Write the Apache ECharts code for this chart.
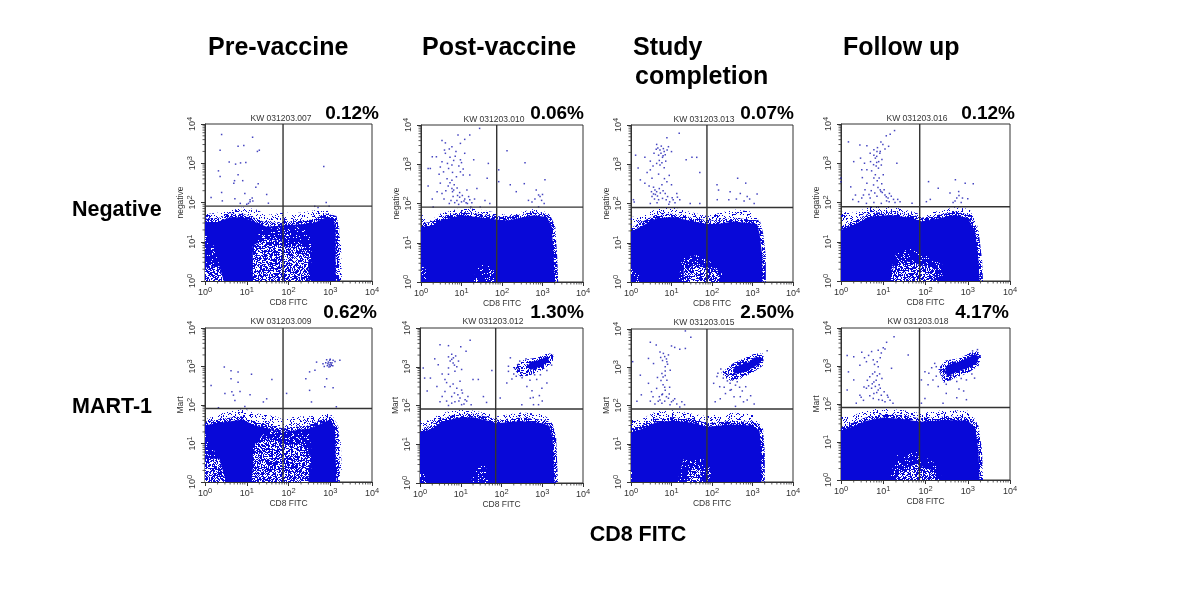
<!DOCTYPE html>
<html><head><meta charset="utf-8">
<script src="https://cdn.jsdelivr.net/npm/echarts@6/dist/echarts.min.js"></script>
<style>html,body{margin:0;background:#fff}#c{width:1200px;height:590px}</style></head>
<body><div id="c"></div>
<script>
// ---------- labels ----------
const columnTitles = ['Pre-vaccine','Post-vaccine','Study\n completion','Follow up'];
const rowTitles = ['Negative','MART-1'];
const xAxisName = 'CD8 FITC';
const yNames = ['negative','negative','negative','negative','Mart','Mart','Mart','Mart'];
const fileIds = ['KW 031203.007','KW 031203.010','KW 031203.013','KW 031203.016','KW 031203.009','KW 031203.012','KW 031203.015','KW 031203.018'];
const percents = ['0.12%','0.06%','0.07%','0.12%','0.62%','1.30%','2.50%','4.17%'];
const gateX = [74,74,75,73,74,72,75,72];
const gateY = [81,81,79,78,81,81,81,81];
const minorTickValues = [2,3,4,5,6,7,8,9,20,30,40,50,60,70,80,90,200,300,400,500,600,700,800,900,2000,3000,4000,5000,6000,7000,8000,9000];

// ---------- dense cloud outlines, read as [CD8, marker] ----------
const body1 = [[1,1],[1,32],[2,32],[4,42],[8,42],[14,34],[30,24],[74,26],[200,28],[400,30],[800,42],[1200,38],[1350,22],[1350,1]];
const body2 = [[1,1],[1,25],[2,28],[3,37],[10,50],[24,45],[74,39],[133,37],[600,50],[1300,45],[1700,25],[1900,4],[2000,1]];
const body3 = [[1,1],[1,19],[2,28],[4.3,42],[11,45],[35,35],[75,30],[130,30],[350,35],[1300,30],[1500,17],[1750,4.5],[1750,1]];
const body4 = [[1,1],[1,20],[2,27],[5,44],[15,48],[50,40],[74,33],[130,36],[500,48],[1000,40],[1500,18],[1800,3.4],[1900,1]];
const body5 = [[1,1],[1,30],[3,36],[8,42],[15,30],[50,22],[74,20],[150,22],[300,24],[500,30],[1000,42],[1300,25],[1400,1]];
const body6 = [[1,1],[1,20],[2,25],[3,35],[8,48],[20,50],[50,40],[74,35],[300,40],[1000,35],[1500,30],[1800,15],[2000,1]];
const body7 = [[1,1],[1,20],[2,25],[4,36],[10,40],[30,36],[75,28],[300,32],[1000,30],[1500,22],[1650,6],[1650,1]];
const body8 = [[1,1],[1,20],[2,26],[4,36],[10,44],[30,40],[72,34],[300,38],[1000,36],[1500,24],[1800,6],[1900,1]];

const fringe1 = [[1,1],[1,50],[3,58],[8,75],[16,68],[30,48],[74,55],[200,55],[500,65],[1000,60],[1500,35],[1800,12],[1900,1]];
const fringe2 = [[1,1],[1,60],[1.4,32],[3,55],[10,78],[24,72],[74,58],[133,50],[600,72],[1300,60],[1800,32],[2000,4],[2100,1]];
const fringe3 = [[1,1],[1,45],[2,48],[4.3,75],[11,78],[35,58],[75,48],[350,70],[1000,62],[1400,38],[1800,18],[2100,5],[1900,1]];
const fringe4 = [[1,1],[1,58],[2,55],[5,78],[15,80],[50,58],[74,50],[130,55],[500,76],[1100,68],[1700,25],[2000,5],[2100,1]];
const fringe5 = [[1,1],[1,42],[3,65],[8,78],[15,62],[50,50],[74,42],[150,50],[500,52],[1000,62],[1400,35],[1800,10],[1900,1]];
const fringe6 = [[1,1],[1,40],[2,42],[3,62],[8,78],[20,74],[50,60],[74,52],[300,66],[1000,60],[1700,40],[2000,15],[2100,1]];
const fringe7 = [[1,1],[1,42],[2,46],[4,70],[10,76],[30,62],[75,52],[300,66],[1000,58],[1600,32],[1950,8],[1800,1]];
const fringe8 = [[1,1],[1,45],[2,50],[4,70],[10,76],[30,68],[72,58],[300,70],[1000,66],[1600,36],[2100,8],[1950,1]];

// ---------- lighter pockets inside the clouds ----------
const holesHeavy = [
  [[[14,1],[14,8],[30,12],[70,10],[90,7],[180,9],[300,5],[300,1]],[[1,1],[1,2.2],[2.2,2.4],[2.8,1]]],
  [],
  [[[20,1],[20,2],[45,3],[70,2.4],[140,2],[140,1]]],
  [[[15,1],[18,2.4],[40,3.2],[70,2.6],[180,2],[150,1]]],
  [[[13,1],[16,10],[40,14],[80,9],[200,10],[330,5],[300,1]],[[1,1],[1,4],[2.2,4],[3.2,1]]],
  [],
  [[[24,1],[26,2],[50,2.4],[55,1]]],
  [[[20,1],[24,1.8],[60,2.6],[170,1.7],[170,1]]]
];
const holesLight = [
  [[[12,1],[20,20],[74,24],[300,24],[360,8],[340,1]],[[1,2],[1,20],[1.5,10],[2.4,2]]],
  [[[20,1],[24,3],[60,2.4],[70,1]],[[1,1],[1,2.6],[1.3,2.2],[1.4,1]]],
  [[[15,1],[18,4],[50,5],[100,3],[180,1.6],[160,1]],[[1,1],[1,2.2],[1.6,1.6],[1.6,1]]],
  [[[13,1],[20,5],[50,7],[120,4],[280,2.4],[240,1]]],
  [[[14,8],[30,22],[120,20],[320,20],[360,5],[340,1],[14,1]],[[1,4],[1,18],[1.5,10],[2.2,2]]],
  [[[18,1],[22,3],[40,3],[50,1]],[[1,1],[1,2],[1.4,2],[1.4,1]]],
  [[[14,1],[20,4],[60,4],[100,2],[90,1]],[[1,1],[1,2],[1.2,1.6],[1.2,1]]],
  [[[14,1],[20,4.4],[60,5.5],[150,3],[240,1.5],[220,1]]]
];

// ---------- antigen-positive clusters ----------
const clusterSolid = [
  [],[],[],[],[],
  [[420,1000],[520,1350],[900,1500],[1250,1850],[1480,1650],[1300,1250],[850,1000],[520,820]],
  [[330,900],[480,1150],[800,1350],[1100,1800],[1650,1850],[1550,1300],[1000,950],[550,720],[350,680]],
  [[290,880],[380,1120],[620,1280],[1000,1650],[1500,2050],[1850,1750],[1650,1180],[1000,880],[520,680],[320,520]]
];
const clusterHalo = [
  [],[],[],[],[],
  [[190,950],[350,1500],[800,1750],[1400,2250],[1900,2050],[1800,1300],[1050,850],[500,600],[290,560]],
  [[170,720],[340,1300],[650,1750],[1150,2300],[1900,2300],[1800,1100],[1000,720],[500,500],[260,440]],
  [[200,850],[300,1400],[650,1600],[1100,2200],[1700,2500],[2100,1800],[1800,1000],[1000,650],[500,480],[270,360]]
];

// ---------- individually readable events, [CD8, marker] ----------
const dots1 = [[2.5,5400],[2.3,2150],[6.2,2700],[8.5,2850],[13.8,4600],[18,2000],[20,2150],[3.8,1080],[5.4,950],[7.1,1020],[9.5,1040],[2.1,640],[2.3,460],[6.2,510],[5.1,360],[8,360],[4.9,310],[18.8,300],[16.5,245],[700,830],[2.5,180],[1.4,135],[2.6,110],[5.2,125],[9,170],[12,105],[13.5,130],[11,95],[30,160],[33,96],[425,80],[510,75],[800,100],[940,80],[7,95],[10,90],[12,118],[14,110]];
const dots2 = [[8.2,5600],[16,5600],[12,4300],[28,8200],[3.3,4000],[4,3500],[5.8,2800],[9.4,3400],[7.3,2100],[2.4,1550],[1.9,1550],[4,1900],[20,1300],[46,1050],[133,2200],[370,1100],[1.5,780],[1.7,780],[3.3,1150],[5.8,950],[9.4,1300],[9.4,640],[11,530],[16,530],[3.6,640],[4.4,430],[5.8,390],[3,330],[1.5,280],[5.8,240],[6.4,220],[3.3,180],[2.5,200],[1.9,130],[13.6,220],[24,240],[43,440],[83,720],[83,360],[160,300],[225,200],[355,320],[700,220],[1150,400],[800,165],[870,150],[450,120],[550,110],[7.7,120],[12,130],[14,100],[38,120],[50,100],[5,100],[2,82],[17,82],[29,82],[800,82],[8,160],[10,110],[16,125],[6,200],[4.5,1050],[7,1600],[11,760],[3,850],[2.8,560],[4.7,280],[9,145],[13,105],[650,130],[950,120],[1000,170],[1100,100],[5.2,340],[6.6,300],[7.8,250],[4.1,210],[9,190],[10.5,160],[6.2,150],[3.7,130],[5.5,120],[6.8,105],[8.5,95],[11.5,115],[15,150],[18,105],[21,130],[7.5,480],[6,620],[4.8,780],[8.6,900],[10,1100],[6.4,1250],[5.2,1500],[3.8,2300],[5,2450],[12,1900]];
const dots3 = [[7.7,4700],[15.5,6200],[4.3,3200],[6.3,2500],[8.4,2800],[5.2,2300],[6.6,2100],[4.8,1700],[10,2100],[1.3,1700],[2.2,1500],[23,1300],[32,1500],[42,1500],[4.3,1050],[5.2,950],[6.6,820],[50,620],[430,440],[680,330],[133,300],[1.5,800],[1.7,400],[2.2,330],[3.3,440],[3,720],[3.9,220],[4.3,200],[3.3,150],[5.8,300],[7.7,360],[10,300],[13.5,180],[7,180],[4.8,125],[11,125],[3,100],[16,125],[145,220],[280,200],[500,180],[740,150],[260,125],[1300,175],[1100,100],[135,125],[50,100],[29,100],[1.15,125],[3.6,260],[4,170],[5,240],[6,135],[4.4,105],[8,150],[9,110],[5.6,2900],[4.6,2600],[6,1500],[7.2,1200],[3.5,900],[1.2,110],[3.2,200],[3.6,175],[4.5,155],[3.8,130],[5.3,185],[6.2,210],[7.4,125],[8.6,95],[10.4,140],[12.2,105],[14,145],[5.5,1900],[6.2,1650],[5,1250],[5.8,1100],[7,1750],[7.8,2300],[4.2,2400],[3.7,1900],[3,1200],[2.5,620],[2.8,280],[6.7,430],[8.8,520],[4.8,560],[400,130],[620,115],[850,130]];
const dots4 = [[18.5,6800],[11.8,5000],[14.6,5500],[8.8,3500],[1.5,3500],[4.1,2800],[13.4,2700],[2.8,2900],[7.1,2000],[8.5,2000],[4.9,1800],[6.5,1350],[9.3,1250],[2.9,1350],[2,1100],[21,1000],[5.9,920],[7.7,750],[4.1,680],[3.1,680],[6.5,510],[10,510],[1.7,250],[4.1,310],[5.9,280],[1,420],[1,340],[8.5,210],[11,155],[3.4,155],[3.1,130],[4.9,130],[7.1,145],[13,130],[17.5,120],[1.9,120],[2.2,155],[25,105],[48,95],[118,340],[200,230],[510,380],[870,310],[1350,300],[380,175],[610,190],[550,130],[105,105],[130,120],[6,1600],[7,1050],[5.3,640],[8,420],[9.5,180],[12,110],[14,170],[6,100],[4,95],[9,95],[2.6,105],[500,110],[700,100],[450,100],[7.5,240],[8.8,190],[10.5,210],[11.8,140],[6.3,175],[5.2,200],[4.6,160],[3.7,210],[13.8,105],[15.5,145],[19,100],[22,120],[7,1500],[7.8,1100],[6.8,850],[8.3,1800],[7.3,2500],[6,2200],[9.8,3000],[11,2300],[9,900],[6,420],[7.2,360],[9.2,300],[3.2,430],[5,1100],[3.6,1000],[620,150],[750,130],[1000,125]];
const dots5 = [[2.9,970],[4.2,770],[6.2,720],[4.2,480],[6.2,390],[13,630],[40,460],[1.4,320],[3,200],[4.4,220],[6.9,225],[4.8,180],[12,185],[9,92],[10,80],[30,145],[25,120],[90,200],[5.2,130],[2.1,85],[470,1300],[670,1180],[820,1500],[970,1450],[880,1180],[1060,1070],[930,970],[1170,1450],[1700,1450],[430,800],[320,725],[260,480],[320,240],[355,120],[740,300],[1170,280],[820,480],[1400,90],[900,1300],[1000,1250],[1050,1150],[950,1100],[1100,1250],[850,1050],[1000,1000],[1150,1050],[780,1250],[1300,1350],[1000,1550],[720,1000]];
const dots6 = [[17,4800],[3.1,3700],[5,3500],[10,3300],[6.6,1700],[2.3,1600],[5.5,1400],[8.8,1400],[13.5,2500],[1.2,930],[2.8,1130],[5,930],[7.2,770],[58,800],[10.5,850],[1.8,510],[1.3,510],[4.1,470],[9.6,420],[20,470],[27,470],[2.6,310],[5.5,310],[10.5,250],[6,170],[4.1,230],[1.5,235],[12.8,140],[15,170],[9.6,155],[7.2,125],[3.1,125],[43,120],[36,170],[93,155],[148,1030],[148,760],[165,1700],[230,570],[135,380],[420,310],[980,280],[730,470],[1300,380],[510,155],[610,105],[810,105],[315,105],[6,2100],[7,1100],[3.5,650],[12,110],[14,130],[5,100],[250,850],[300,700],[420,600],[650,620],[900,620],[1300,800],[1700,1100],[1700,2000],[280,1400],[400,1600],[180,480],[560,240],[1000,130],[5,1800],[6,1550],[7.5,1900],[6.5,1250],[8,1000],[5,640],[4.5,390],[6.5,360],[8,280],[7,210],[8.5,190],[11,210],[9,130],[6,115],[10.5,105],[4.5,130],[3.5,170],[18,105],[200,650],[210,900],[260,1150],[320,520],[500,450],[600,160],[850,180]];
const dots7 = [[22,8900],[30,6100],[3,4500],[4.2,3800],[10,3600],[12,3300],[16,2950],[22,3100],[1.1,1400],[6.3,2300],[8.4,2100],[5.2,2500],[2.7,1700],[3.6,1250],[7.7,1400],[7,1030],[9.3,840],[5.8,690],[7.7,460],[1.7,620],[2.7,380],[4.3,280],[5.8,190],[7,250],[8.4,155],[10,125],[1.8,190],[1.4,130],[3.9,110],[5.2,140],[13.5,110],[16,92],[133,570],[110,380],[155,310],[215,205],[280,380],[500,170],[740,140],[380,95],[350,170],[160,150],[680,310],[380,340],[280,250],[120,125],[6,200],[5,170],[6.8,130],[7,610],[5.4,1800],[8,1200],[4.5,540],[9,300],[6.2,350],[140,700],[190,520],[240,440],[320,460],[420,420],[1800,1500],[2300,2700],[600,125],[1100,110],[3,130],[12,150],[6.8,1900],[7.5,1650],[6,1500],[7,800],[6.2,560],[5.5,450],[6.8,300],[7.5,170],[5.8,115],[4.7,130],[3.5,170],[3.2,230],[8.8,200],[11,135],[9.2,105],[18,125],[21,105],[165,900],[210,700],[250,620],[300,260],[200,300],[480,300],[560,240],[900,180]];
const dots8 = [[18,5900],[12,4200],[10,3000],[7.6,2600],[3.1,2300],[5.3,2400],[1.4,1900],[2,1750],[5.8,1450],[4,1300],[2.8,1050],[1.5,700],[7.6,950],[15.7,870],[39,1950],[6.3,700],[4.8,520],[9.3,470],[2,430],[1.4,235],[4,260],[5.3,260],[7.6,235],[2.8,170],[5.8,140],[11,115],[3.4,125],[2.3,105],[17,105],[97,710],[80,430],[115,320],[150,430],[200,290],[260,570],[380,430],[550,390],[930,430],[310,190],[550,145],[930,130],[260,105],[97,140],[80,105],[180,960],[165,1170],[8,320],[6,380],[3.5,280],[9,170],[7,200],[3,150],[13,150],[220,700],[310,330],[700,470],[1250,620],[1450,480],[120,640],[140,900],[1700,2700],[1300,2500],[4.5,300],[5.5,340],[6.8,420],[7.2,550],[8.2,620],[5.6,620],[4.2,420],[6.5,290],[8.5,260],[10.5,210],[12.5,170],[6,190],[4.8,165],[7.8,130],[9.5,125],[14.5,125],[6.2,1100],[7.2,1300],[8.5,1650],[9,2200],[11,2800],[4.5,1900],[3.6,1650],[230,820],[290,720],[420,560],[620,250],[800,220],[180,540]];

const bodies = [body1,body2,body3,body4,body5,body6,body7,body8];
const fringes = [fringe1,fringe2,fringe3,fringe4,fringe5,fringe6,fringe7,fringe8];
const dots = [dots1,dots2,dots3,dots4,dots5,dots6,dots7,dots8];

// ---------- layout (style, not data) ----------
const grids = [
  [205,124,167,157],[421,125,162,157],[631,125,162,157],[841,124,169,157],
  [205,328,167,154],[420,328,163,155],[631,329,162,153],[841,328,169,152]
];
const pctPos = [[379,114],[584,114],[794,114],[1015,114],[377,313],[584,313],[794,313],[1009,313]];
const idPos = [[281,119],[494,120],[704,120],[917,119],[281,322],[493,322],[704,323],[918,322]];
const BLUE = '#0808d8';

// speckle texture for the polygons' fill only (no chart value depends on it)
const textureA = '72930581647391058264730196285147360928514730296158403';
const textureB = '18462739501827643950172846395028174659302817465';
function tile(level,color){
  const c=document.createElement('canvas');
  c.width=127;c.height=127;const g=c.getContext('2d');g.fillStyle=color;
  for(let y=0;y<127;y++)for(let x=0;x<127;x++){
    const v=(+textureA[(x*x+y*3+x*y)%53]+ +textureB[(y*y*5+x*7)%47])%10;
    if(v<level)g.fillRect(x,y,1,1);
  }
  return {image:c,repeat:'repeat'};
}
const fillFringe=tile(2,BLUE),edgeSoft=tile(6,BLUE),fillHalo=tile(5,BLUE),holeHeavy=tile(4,'#ffffff'),holeLight=tile(1,'#ffffff');

function polygon(pts,fill,i,stroke,lw){
  const style={fill};
  if(stroke){style.stroke=stroke;style.lineWidth=lw;}
  return {type:'custom',coordinateSystem:'cartesian2d',xAxisIndex:i,yAxisIndex:i,silent:true,animation:false,
    clip:true,data:pts,encode:{x:0,y:1},
    renderItem:(p,api)=>p.dataIndex===0?{type:'polygon',shape:{points:pts.map(d=>api.coord(d))},style}:null};
}
function minorTicks(i,isX){
  const data=minorTickValues.map(v=>isX?[v,1]:[1,v]);
  return {type:'custom',coordinateSystem:'cartesian2d',xAxisIndex:i,yAxisIndex:i,silent:true,animation:false,clip:false,
    data,encode:{x:0,y:1},
    renderItem:(p,api)=>{const a=api.coord([api.value(0),api.value(1)]);
      const b=isX?[a[0],a[1]+2.5]:[a[0]-2.5,a[1]];
      return {type:'line',shape:{x1:a[0],y1:a[1],x2:b[0],y2:b[1]},style:{stroke:'#333',lineWidth:0.8}};}};
}
const powLabel=v=>'{b|10}{s|'+Math.round(Math.log10(v))+'}';
const rich={b:{fontSize:9,color:'#333',fontFamily:'Liberation Sans'},s:{fontSize:7.5,color:'#333',fontFamily:'Liberation Sans',padding:[0,0,6,0]}};
const series=[],xAxis=[],yAxis=[],grid=[],graphic=[];
grids.forEach((g,i)=>{
  grid.push({left:g[0],top:g[1],width:g[2],height:g[3],show:true,borderColor:'#333',borderWidth:1,backgroundColor:'#fff'});
  const ax={type:'log',logBase:10,min:1,max:10000,gridIndex:i,splitLine:{show:false},minorSplitLine:{show:false},
    axisLine:{show:true,onZero:false,lineStyle:{color:'#333',width:1}},
    axisTick:{show:true,length:4,inside:false,lineStyle:{color:'#333'}},
    minorTick:{show:false}};
  xAxis.push({...ax,name:xAxisName,nameLocation:'middle',nameGap:15,nameTextStyle:{fontSize:8.5,color:'#333',fontFamily:'Liberation Sans'},
    axisLabel:{formatter:powLabel,rich,margin:5,showMinLabel:true,showMaxLabel:true,hideOverlap:false}});
  yAxis.push({...ax,name:yNames[i],nameLocation:'middle',nameRotate:90,nameGap:16,nameTextStyle:{fontSize:8.5,color:'#333',fontFamily:'Liberation Sans'},
    axisLabel:{formatter:powLabel,rich,rotate:90,margin:5,showMinLabel:true,showMaxLabel:true,hideOverlap:false}});
  series.push(polygon(fringes[i],fillFringe,i));
  series.push(polygon(bodies[i],BLUE,i,edgeSoft,7));
  holesLight[i].forEach(h=>series.push(polygon(h,holeLight,i)));
  holesHeavy[i].forEach(h=>series.push(polygon(h,holeHeavy,i)));
  if(clusterHalo[i].length){series.push(polygon(clusterHalo[i],fillHalo,i));series.push(polygon(clusterSolid[i],BLUE,i,edgeSoft,3));}
  series.push({type:'scatter',xAxisIndex:i,yAxisIndex:i,data:dots[i],symbol:'rect',symbolSize:1.5,silent:true,animation:false,itemStyle:{color:'#1515b0'}});
  series.push(minorTicks(i,true));
  series.push(minorTicks(i,false));
  [[[gateX[i],1],[gateX[i],10000]],[[1,gateY[i]],[10000,gateY[i]]]].forEach(l=>
    series.push({type:'line',xAxisIndex:i,yAxisIndex:i,data:l,symbol:'none',silent:true,animation:false,lineStyle:{color:'#333',width:1.4},z:5}));
  graphic.push({type:'text',x:pctPos[i][0],y:pctPos[i][1],style:{text:percents[i],fill:'#000',font:'bold 19px "Liberation Sans"',textAlign:'right',textVerticalAlign:'middle'}});
  graphic.push({type:'text',x:idPos[i][0],y:idPos[i][1],style:{text:fileIds[i],fill:'#333',font:'8.5px "Liberation Sans"',textAlign:'center',textVerticalAlign:'middle'}});
});
const head='bold 25px "Liberation Sans"',side='bold 21.5px "Liberation Sans"';
[[208,48],[422,48],[633,48],[843,48]].forEach((p,i)=>{
  const lines=columnTitles[i].split('\n');
  graphic.push({type:'text',x:p[0],y:p[1],style:{text:lines[0],fill:'#000',font:head,textVerticalAlign:'middle'}});
  if(lines[1])graphic.push({type:'text',x:635,y:77,style:{text:lines[1].trim(),fill:'#000',font:head,textVerticalAlign:'middle'}});
});
graphic.push({type:'text',x:72,y:210,style:{text:rowTitles[0],fill:'#000',font:side,textVerticalAlign:'middle'}});
graphic.push({type:'text',x:72,y:407,style:{text:rowTitles[1],fill:'#000',font:side,textVerticalAlign:'middle'}});
graphic.push({type:'text',x:638,y:535,style:{text:xAxisName,fill:'#000',font:'bold 21.5px "Liberation Sans"',textAlign:'center',textVerticalAlign:'middle'}});

const chart=echarts.init(document.getElementById('c'),null,{renderer:'canvas'});
chart.setOption({animation:false,backgroundColor:'#fff',grid,xAxis,yAxis,series,graphic});
</script></body></html>
